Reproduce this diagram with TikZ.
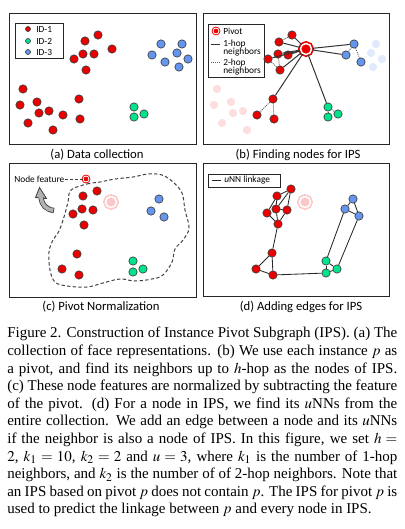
\documentclass[tikz,border=0pt]{standalone}
\usepackage{mathptmx}
\usepackage{fontspec}
\setmainfont{Liberation Serif}
\newfontfamily\panelfont{Carlito}
\usetikzlibrary{positioning,calc,arrows.meta}
\definecolor{idred}{RGB}{235,0,0}
\definecolor{idgreen}{RGB}{0,228,140}
\definecolor{idblue}{RGB}{100,150,240}
\definecolor{fadered}{RGB}{253,222,222}
\definecolor{fadeblue}{RGB}{224,234,252}
\definecolor{pinkring}{RGB}{250,200,200}

\begin{document}
\begin{tikzpicture}[x=0.6pt, y=-0.6pt,
    dot/.style={circle, draw=black!75, line width=0.4pt, inner sep=0pt, minimum size=5pt},
    reddot/.style={dot, fill=idred},
    greendot/.style={dot, fill=idgreen},
    bluedot/.style={dot, fill=idblue},
    ghostred/.style={circle, fill=fadered, inner sep=0pt, minimum size=5pt},
    ghostblue/.style={circle, fill=fadeblue, inner sep=0pt, minimum size=5pt},
    keydot/.style={dot, minimum size=3pt},
    pivot/.style={circle, fill=idred, draw=idred, double=white, double distance=0.9pt, line width=1pt, inner sep=0pt, minimum size=6.6pt},
    smallpivot/.style={pivot, double distance=0.5pt, line width=0.55pt, minimum size=3.6pt},
    ghostpivot/.style={pivot, fill=pinkring, draw=pinkring},
    panel/.style={draw=black!85, line width=0.6pt},
    keybox/.style={draw=black!85, line width=0.5pt, fill=white},
    keytext/.style={font=\panelfont\fontsize{5.6}{4.9}\selectfont, inner sep=0pt, anchor=west, align=left},
    subcap/.style={font=\panelfont\fontsize{7.6}{9}\selectfont, inner sep=0pt},
    hop/.style={line width=0.6pt, black!80},
    twohop/.style={line width=0.5pt, black!65, dash pattern=on 0.6pt off 0.6pt},
    link/.style={line width=0.5pt, black!85}
]
    \useasboundingbox (0,0) rectangle (404,529);

    % (a) Data collection
    \draw[panel] (9,13) rectangle (196,144);
    \draw[keybox] (15,23) rectangle (63,58);
    \node[keydot, fill=idred] (ka1) at (28,29) {};
    \node[keydot, fill=idgreen] (ka2) at (28,41) {};
    \node[keydot, fill=idblue] (ka3) at (28,52) {};
    \node[keytext] (ta1) at (36,29) {ID-1};
    \node[keytext] (ta2) at (36,41) {ID-2};
    \node[keytext] (ta3) at (36,52) {ID-3};
    \foreach \x/\y [count=\i] in {98/35, 85/41, 112/49, 83/54, 94/54, 74/59, 86/70,
        23/89, 37/102, 79/99, 20/105, 39/113, 49/111, 63/115, 80/119, 28/123, 53/130}
        \node[reddot] (ar\i) at (\x,\y) {};
    \foreach \x/\y [count=\i] in {134/107, 144/114, 134/117}
        \node[greendot] (ag\i) at (\x,\y) {};
    \foreach \x/\y [count=\i] in {161/44, 182/44, 152/55, 177/53, 165/62, 188/59, 179/67}
        \node[bluedot] (ab\i) at (\x,\y) {};
    \node[subcap] (capa) at (97,155) {(a) Data collection};

    % (b) Finding nodes for IPS
    \draw[panel] (203,13) rectangle (389,144);
    \foreach \x/\y [count=\i] in {217/89, 231/102, 214/105, 233/113, 243/111, 222/123, 247/130}
        \node[ghostred] (bfr\i) at (\x,\y) {};
    \foreach \x/\y [count=\i] in {376/44, 371/53, 382/59, 373/67}
        \node[ghostblue] (bfb\i) at (\x,\y) {};
    \draw[keybox] (208,24) rectangle (264,77);
    \node[smallpivot] (kp) at (216,31) {};
    \node[keytext] (tp) at (223,31) {Pivot};
    \draw[hop] (211,44) -- (220,44);
    \node[keytext, anchor=north west] (t1) at (223,40) {1-hop\\neighbors};
    \draw[twohop] (211,62) -- (220,62);
    \node[keytext, anchor=north west] (t2) at (223,59) {2-hop\\neighbors};
    \foreach \x/\y [count=\i] in {292/35, 279/42, 278/54, 288/55, 268/59, 280/70, 273/99, 257/115, 274/119}
        \node[reddot] (br\i) at (\x,\y) {};
    \foreach \x/\y [count=\i] in {328/107, 338/114, 328/117}
        \node[greendot] (bg\i) at (\x,\y) {};
    \foreach \x/\y [count=\i] in {354/44, 346/55, 361/62}
        \node[bluedot] (bb\i) at (\x,\y) {};
    \node[pivot] (bp) at (306,49) {};
    \foreach \n in {br1, br2, br3, br4, br5, br6, br7, bg1, bb1, bb2}
        \draw[hop] (bp) -- (\n);
    \draw[twohop] (br1) -- (br2);
    \draw[twohop] (br5) -- (br6);
    \draw[twohop] (br3) -- (br6);
    \draw[twohop] (br7) -- (br8);
    \draw[twohop] (br7) -- (br9);
    \draw[twohop] (bg1) -- (bg2);
    \draw[twohop] (bg1) -- (bg3);
    \draw[twohop] (bb1) -- (bb3);
    \draw[twohop] (bb1) -- (bb2);
    \node[subcap] (capb) at (298,155) {(b) Finding nodes for IPS};

    % (c) Pivot normalization
    \draw[panel] (9,163) rectangle (196,297);
    \draw[line width=0.6pt, black!75, dash pattern=on 2pt off 1.4pt]
        plot[smooth cycle, tension=0.6] coordinates {(71,190) (87,184) (100,182) (115,179) (133,177)
        (148,174) (162,175) (173,182) (182,193) (185,210) (189,228) (183,240) (175,249) (172,262)
        (163,275) (152,279) (135,281) (120,279) (103,283) (87,287) (67,286) (55,282) (50,270)
        (49,252) (53,240) (59,231) (64,217) (68,202)};
    \node[keytext] (nf) at (14,179) {Node feature};
    \node[smallpivot] (nfp) at (86,179) {};
    \draw[line width=0.5pt, black!75, dash pattern=on 2pt off 1pt] (nf) -- (nfp);
    \node[ghostpivot] (cp) at (111,202) {};
    \foreach \x/\y [count=\i] in {97/191, 83/196, 82/209, 93/210, 73/214, 84/225, 77/254, 62/269, 79/275}
        \node[reddot] (cr\i) at (\x,\y) {};
    \foreach \x/\y [count=\i] in {133/261, 143/269, 133/272}
        \node[greendot] (cg\i) at (\x,\y) {};
    \foreach \x/\y [count=\i] in {159/199, 151/211, 164/217}
        \node[bluedot] (cb\i) at (\x,\y) {};
    % bent arrow
    \filldraw[fill=gray!60, draw=black!75, line width=0.5pt] (35.5,197.5) -- (39.5,187.5) -- (46.5,198.5) -- cycle;
    \draw[black!75, line width=3.2pt] (54,210.5) .. controls (46,209.5) and (42,205) .. (41,197.8);
    \draw[gray!60, line width=2.2pt] (53.2,210.4) .. controls (46,209.5) and (42,205) .. (41,197.8) -- (40.7,195);
    \node[subcap] (capc) at (101,307) {(c) Pivot Normalization};

    % (d) Adding edges for IPS
    \draw[panel] (203,163) rectangle (389,296);
    \draw[keybox] (208,174) rectangle (280,187);
    \draw[link] (212,180.5) -- (221,180.5);
    \node[keytext] (tl) at (224,180.5) {{\itshape u}NN linkage};
    \node[ghostpivot] (dp) at (305,202) {};
    \foreach \x/\y [count=\i] in {291/189, 277/196, 276/209, 287/210, 267/213, 278/224, 272/253, 256/269, 273/275}
        \node[reddot] (dr\i) at (\x,\y) {};
    \foreach \x/\y [count=\i] in {326/261, 337/269, 326/273}
        \node[greendot] (dg\i) at (\x,\y) {};
    \foreach \x/\y [count=\i] in {353/199, 345/209, 359/216}
        \node[bluedot] (db\i) at (\x,\y) {};
    \foreach \a/\b in {dr1/dr2, dr1/dr3, dr1/dr4, dr2/dr3, dr2/dr5, dr3/dr4, dr5/dr6, dr3/dr6, dr4/dr6,
        dr6/dr7, dr7/dr8, dr7/dr9, dr8/dr9, dr9/dg3, dg1/dg2, dg1/dg3, dg2/dg3, dg1/db2, dg2/db3,
        db1/db2, db1/db3, db2/db3}
        \draw[link] (\a) -- (\b);
    \node[subcap] (capd) at (301,307) {(d) Adding edges for IPS};

    % Caption
    \node[anchor=north west, inner sep=0pt, text width=234pt, align=justify,
        font=\fontsize{9}{10.56}\selectfont] (caption) at (7,327) {%
        Figure 2. Construction of Instance Pivot Subgraph (IPS). (a) The\linebreak
        collection of face representations. (b) We use each instance $p$ as\linebreak
        a pivot, and find its neighbors up to $h$-hop as the nodes of IPS.\linebreak
        (c) These node features are normalized by subtracting the feature\linebreak
        of the pivot. (d) For a node in IPS, we find its $u$NNs from the\linebreak
        entire collection. We add an edge between a node and its $u$NNs\linebreak
        if the neighbor is also a node of IPS. In this figure, we set $h=$\linebreak
        $2$, $k_1=10$, $k_2=2$ and $u=3$, where $k_1$ is the number of 1-hop\linebreak
        neighbors, and $k_2$ is the number of of 2-hop neighbors. Note that\linebreak
        an IPS based on pivot $p$ does not contain $p$. The IPS for pivot $p$ is\linebreak
        used to predict the linkage between $p$ and every node in IPS.};
\end{tikzpicture}
\end{document}
